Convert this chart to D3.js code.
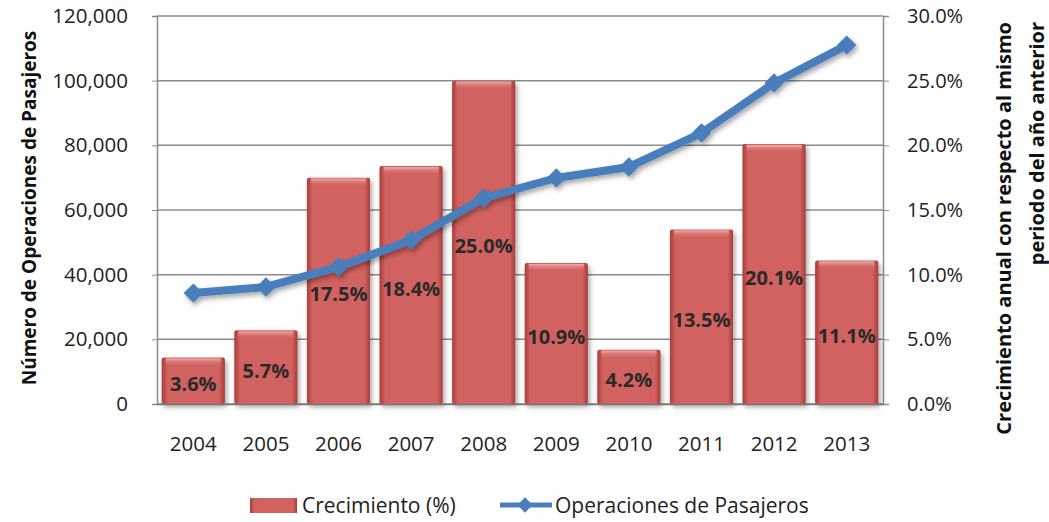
<!DOCTYPE html>
<html>
<head>
<meta charset="utf-8">
<script src="https://cdn.jsdelivr.net/npm/d3@7"></script>
<style>
  body { margin: 0; background: #fff; }
  text { font-family: "Open Sans", Lato, sans-serif; }
</style>
</head>
<body>
<svg id="chart"></svg>
<script>
// Datos
const years = ["2004", "2005", "2006", "2007", "2008", "2009", "2010", "2011", "2012", "2013"];
const growth = [0.036, 0.057, 0.175, 0.184, 0.250, 0.109, 0.042, 0.135, 0.201, 0.111];
const growthLabels = ["3.6%", "5.7%", "17.5%", "18.4%", "25.0%", "10.9%", "4.2%", "13.5%", "20.1%", "11.1%"];
const operations = [34300, 36200, 42400, 50700, 63700, 69900, 73300, 83800, 99300, 111000];
const leftTicks = [0, 20000, 40000, 60000, 80000, 100000, 120000];
const rightTicks = [0, 0.05, 0.10, 0.15, 0.20, 0.25, 0.30];

// Dimensiones
const width = 1049;
const height = 522;
const margin = {top: 16, right: 166, bottom: 118, left: 157};
const plotRight = width - margin.right;
const plotBottom = height - margin.bottom;

const lineColor = '#4a7ebd';
const gridColor = '#8c8c8c';

const svg = d3.select("#chart")
  .attr("width", width)
  .attr("height", height);

const defs = svg.append("defs");

// Degradado para dar relieve a las barras
const grad = defs.append("linearGradient")
  .attr("id", "barGrad")
  .attr("x1", "0%").attr("x2", "100%")
  .attr("y1", "0%").attr("y2", "0%");
grad.append("stop").attr("offset", "0%").attr("stop-color", "#a83c3a");
grad.append("stop").attr("offset", "9%").attr("stop-color", "#d1625f");
grad.append("stop").attr("offset", "91%").attr("stop-color", "#d1625f");
grad.append("stop").attr("offset", "100%").attr("stop-color", "#a83c3a");

const topGrad = defs.append("linearGradient")
  .attr("id", "topGrad")
  .attr("x1", "0%").attr("x2", "0%")
  .attr("y1", "0%").attr("y2", "100%");
topGrad.append("stop").attr("offset", "0%").attr("stop-color", "#eeb0ad").attr("stop-opacity", 0.95);
topGrad.append("stop").attr("offset", "100%").attr("stop-color", "#d1625f").attr("stop-opacity", 0);

const shadow = defs.append("filter")
  .attr("id", "shadow")
  .attr("x", "-30%").attr("y", "-30%")
  .attr("width", "160%").attr("height", "160%");
shadow.append("feDropShadow")
  .attr("dx", 2).attr("dy", 3)
  .attr("stdDeviation", 2.5)
  .attr("flood-color", "#000")
  .attr("flood-opacity", 0.35);

// Escalas
const x = d3.scaleBand()
  .domain(years)
  .range([margin.left, plotRight])
  .paddingInner(0.13)
  .paddingOuter(0.065);

const yLeft = d3.scaleLinear()
  .domain([0, 120000])
  .range([plotBottom, margin.top]);

const yRight = d3.scaleLinear()
  .domain([0, 0.30])
  .range([plotBottom, margin.top]);

// Líneas de cuadrícula
svg.append("g")
  .selectAll("line")
  .data(leftTicks)
  .enter()
  .append("line")
  .attr("x1", margin.left)
  .attr("x2", plotRight)
  .attr("y1", d => yLeft(d))
  .attr("y2", d => yLeft(d))
  .attr("stroke", gridColor)
  .attr("stroke-width", 1.5);

// Eje izquierdo
const leftAxis = svg.append("g")
  .attr("transform", `translate(${margin.left},0)`)
  .call(d3.axisLeft(yLeft).tickValues(leftTicks).tickFormat(d3.format(",")).tickSize(5).tickPadding(24));
leftAxis.select(".domain").attr("stroke", gridColor).attr("stroke-width", 1.5);
leftAxis.selectAll(".tick line").attr("stroke", gridColor);
leftAxis.selectAll("text").attr("font-size", "20.5px").attr("fill", "#222");

// Eje derecho
const rightAxis = svg.append("g")
  .attr("transform", `translate(${plotRight},0)`)
  .call(d3.axisRight(yRight).tickValues(rightTicks).tickFormat(d3.format(".1%")).tickSize(6).tickPadding(18));
rightAxis.select(".domain").attr("stroke", gridColor).attr("stroke-width", 1.5);
rightAxis.selectAll(".tick line").attr("stroke", gridColor);
rightAxis.selectAll("text").attr("font-size", "20px").attr("fill", "#222");

// Barras de crecimiento
const bars = svg.append("g")
  .attr("filter", "url(#shadow)")
  .selectAll("g")
  .data(years)
  .enter()
  .append("g");

bars.append("rect")
  .attr("x", d => x(d))
  .attr("y", (d, i) => yRight(growth[i]))
  .attr("width", x.bandwidth())
  .attr("height", (d, i) => plotBottom - yRight(growth[i]))
  .attr("rx", 2)
  .attr("fill", "url(#barGrad)");

bars.append("rect")
  .attr("x", d => x(d) + 4)
  .attr("y", (d, i) => yRight(growth[i]) + 1)
  .attr("width", x.bandwidth() - 8)
  .attr("height", 8)
  .attr("fill", "url(#topGrad)");

// Eje inferior (años)
const bottomAxis = svg.append("g")
  .attr("transform", `translate(0,${plotBottom})`)
  .call(d3.axisBottom(x).tickSize(0).tickPadding(32));
bottomAxis.select(".domain").attr("stroke", "#777").attr("stroke-width", 1.5);
bottomAxis.selectAll("text").attr("font-size", "20.5px").attr("fill", "#222");

// Línea de operaciones
const line = d3.line()
  .x((d, i) => x(years[i]) + x.bandwidth() / 2)
  .y(d => yLeft(d));

const lineGroup = svg.append("g").attr("filter", "url(#shadow)");

lineGroup.append("path")
  .datum(operations)
  .attr("d", line)
  .attr("fill", "none")
  .attr("stroke", lineColor)
  .attr("stroke-width", 8)
  .attr("stroke-linejoin", "round");

lineGroup.selectAll("path.marker")
  .data(operations)
  .enter()
  .append("path")
  .attr("class", "marker")
  .attr("d", d3.symbol().type(d3.symbolDiamond2).size(240))
  .attr("transform", (d, i) => `translate(${x(years[i]) + x.bandwidth() / 2},${yLeft(d)})`)
  .attr("fill", lineColor);

// Etiquetas de las barras
svg.append("g")
  .selectAll("text")
  .data(years)
  .enter()
  .append("text")
  .attr("x", d => x(d) + x.bandwidth() / 2)
  .attr("y", (d, i) => (yRight(growth[i]) + plotBottom) / 2 + 3)
  .attr("text-anchor", "middle")
  .attr("dominant-baseline", "central")
  .attr("font-size", "20px")
  .attr("font-weight", "bold")
  .attr("fill", "#2a2a2a")
  .text((d, i) => growthLabels[i]);

// Títulos de los ejes
svg.append("text")
  .attr("transform", "translate(29,208) rotate(-90)")
  .attr("text-anchor", "middle")
  .attr("dominant-baseline", "central")
  .attr("font-size", "19px")
  .attr("font-weight", "bold")
  .attr("fill", "#111")
  .text("Número de Operaciones de Pasajeros");

const rightTitle = ["Crecimiento anual con respecto al mismo", "periodo del año anterior"];
svg.append("g")
  .selectAll("text")
  .data(rightTitle)
  .enter()
  .append("text")
  .attr("transform", (d, i) => `translate(${1003 + i * 33},22) rotate(-90)`)
  .attr("text-anchor", "end")
  .attr("dominant-baseline", "central")
  .attr("font-size", "20px")
  .attr("font-weight", "bold")
  .attr("fill", "#111")
  .text(d => d);

// Leyenda
const legend = svg.append("g");

legend.append("rect")
  .attr("x", 250)
  .attr("y", 498)
  .attr("width", 47)
  .attr("height", 15)
  .attr("fill", "url(#barGrad)");

legend.append("text")
  .attr("x", 302)
  .attr("y", 505)
  .attr("dominant-baseline", "central")
  .attr("font-size", "21px")
  .attr("fill", "#222")
  .text("Crecimiento (%)");

legend.append("line")
  .attr("x1", 500).attr("x2", 552)
  .attr("y1", 505).attr("y2", 505)
  .attr("stroke", lineColor)
  .attr("stroke-width", 5);

legend.append("path")
  .attr("d", d3.symbol().type(d3.symbolDiamond2).size(150))
  .attr("transform", "translate(525,505)")
  .attr("fill", lineColor);

legend.append("text")
  .attr("x", 555)
  .attr("y", 505)
  .attr("dominant-baseline", "central")
  .attr("font-size", "21px")
  .attr("fill", "#222")
  .text("Operaciones de Pasajeros");
</script>
</body>
</html>
